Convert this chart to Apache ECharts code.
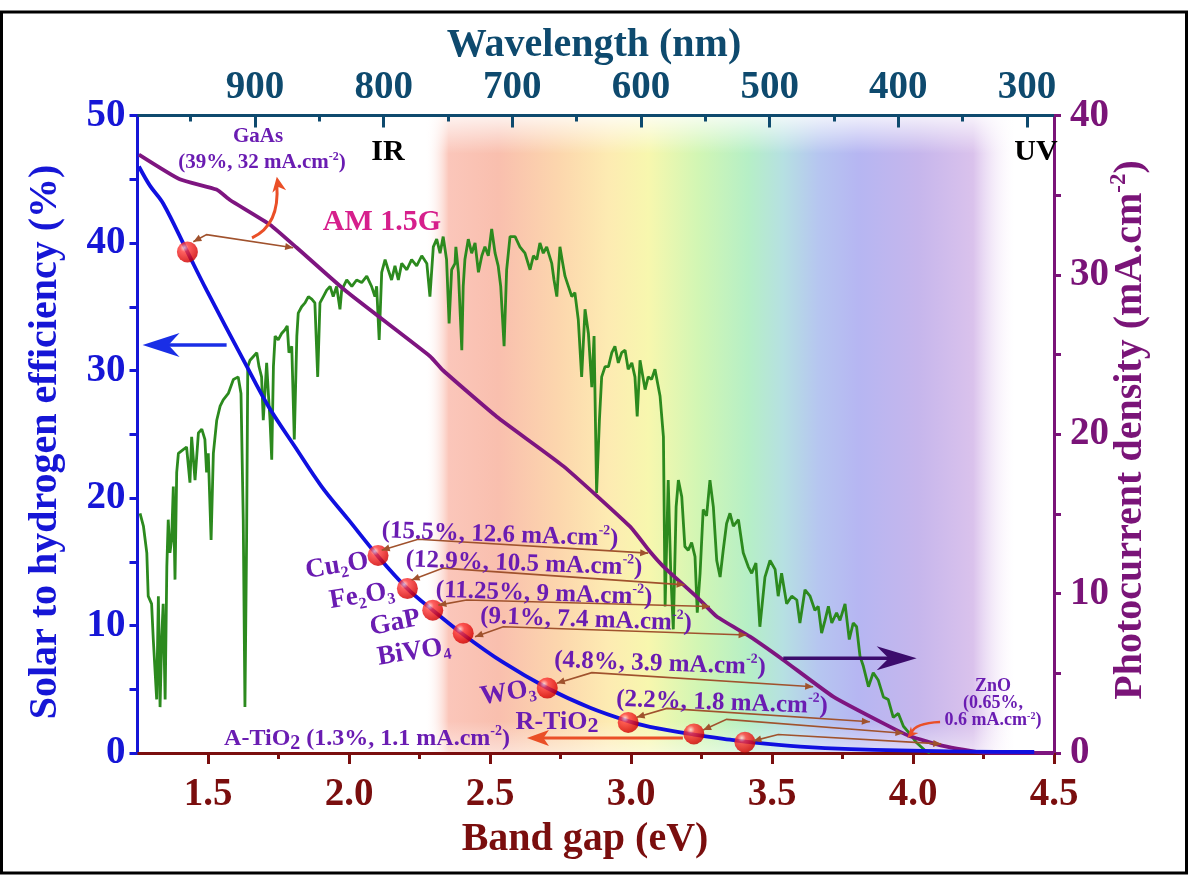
<!DOCTYPE html>
<html><head><meta charset="utf-8">
<script src="https://cdn.jsdelivr.net/npm/echarts@6/dist/echarts.min.js"></script>
<style>html,body{margin:0;padding:0;background:#fff}#c{width:1189px;height:875px}</style>
</head><body><div id="c"></div><script>
// ---------------- DATA ----------------
const evMajor = [1.5, 2.0, 2.5, 3.0, 3.5, 4.0, 4.5];
const evMinor = [1.75, 2.25, 2.75, 3.25, 3.75, 4.25];
const wlLabels = [900, 800, 700, 600, 500, 400, 300];
const wlMinor = [950, 850, 750, 650, 550, 450, 350];

// Solar-to-hydrogen efficiency (%), left axis
const sthEV  = [1.255,1.294,1.341,1.427,1.495,1.631,1.714,1.809,1.903,1.998,2.104,2.207,2.297,2.405,2.547,2.703,2.855,2.99,3.067,3.223,3.351,3.422,3.60,3.78,4.13,4.43];
const sthPct = [46.0,44.5,43.1,39.3,36.3,30.6,27.2,24.0,20.9,18.3,15.4,12.9,11.2,9.3,7.1,5.1,3.55,2.5,2.05,1.45,1.05,0.85,0.5,0.3,0.12,0.08];

// Photocurrent density (mA/cm2), right axis
const jphEV  = [1.255,1.40,1.53,1.578,1.72,1.815,1.99,2.287,2.334,2.524,2.76,2.997,3.067,3.115,3.233,3.304,3.422,3.54,3.717,3.895,3.99,4.107,4.25,4.5];
const jphVal = [37.55,36.0,35.35,34.7,33.15,31.7,28.97,24.9,24.0,21.1,18.0,14.2,12.64,11.7,9.8,8.56,7.3,5.84,3.54,1.86,1.05,0.45,0.02,0];

// AM 1.5G spectrum (drawn on the left-axis scale)
const amEV = [1.259,1.271,1.283,1.288,1.300,1.306,1.318,1.324,1.330,1.336,
1.341,1.348,1.354,1.359,1.365,1.371,1.377,1.383,1.389,1.395,
1.412,1.424,1.436,1.442,1.454,1.466,1.478,1.489,1.495,1.501,
1.511,1.519,1.531,1.543,1.554,1.572,1.590,1.607,1.617,1.625,
1.631,1.637,1.641,1.649,1.661,1.673,1.681,1.690,1.696,1.708,
1.714,1.720,1.726,1.732,1.738,1.749,1.761,1.773,1.781,1.787,
1.797,1.806,1.815,1.820,1.832,1.844,1.856,1.868,1.879,1.889,
1.897,1.909,1.921,1.933,1.944,1.956,1.968,1.974,1.992,2.010,
2.027,2.045,2.063,2.080,2.092,2.098,2.107,2.116,2.128,2.139,
2.151,2.163,2.175,2.187,2.205,2.222,2.240,2.258,2.276,2.287,
2.299,2.311,2.323,2.334,2.346,2.355,2.364,2.376,2.379,2.388,
2.400,2.405,2.411,2.423,2.435,2.447,2.459,2.471,2.482,2.494,
2.506,2.518,2.529,2.538,2.550,2.559,2.571,2.589,2.606,2.624,
2.642,2.654,2.666,2.677,2.689,2.701,2.719,2.727,2.737,2.748,
2.758,2.766,2.778,2.790,2.801,2.813,2.825,2.837,2.849,2.861,
2.869,2.878,2.888,2.896,2.908,2.920,2.932,2.943,2.955,2.967,
2.979,2.990,3.003,3.014,3.022,3.032,3.050,3.061,3.073,3.085,
3.103,3.115,3.121,3.132,3.141,3.150,3.160,3.168,3.180,3.191,
3.203,3.215,3.227,3.235,3.245,3.256,3.268,3.280,3.292,3.304,
3.316,3.327,3.339,3.351,3.363,3.381,3.398,3.416,3.428,3.443,
3.457,3.475,3.493,3.511,3.522,3.534,3.552,3.570,3.588,3.599,
3.617,3.635,3.652,3.664,3.676,3.688,3.700,3.712,3.729,3.741,
3.759,3.774,3.788,3.800,3.812,3.824,3.842,3.859,3.877,3.895,
3.912,3.930,3.948,3.966,3.989,4.013,4.043,4.060];
const amPct = [18.8,17.8,15.7,12.3,11.7,8.9,4.2,12.3,3.6,9.1,
11.7,4.2,14.6,18.3,15.7,16.7,20.9,13.6,22.0,23.5,
23.8,24.0,21.2,24.8,21.4,25.1,25.4,24.6,22.0,23.5,
16.7,23.5,26.1,27.2,27.7,28.2,29.3,29.5,28.2,18.3,
3.6,17.0,30.3,30.8,31.1,31.4,30.3,29.5,26.1,30.6,
28.2,26.1,23.0,30.3,32.7,32.4,32.9,33.2,33.5,31.4,
31.9,24.6,32.7,34.5,35.0,35.3,35.8,35.6,35.3,29.5,
35.3,35.8,36.3,36.6,35.8,36.6,34.8,36.3,37.1,36.6,
37.1,36.9,37.4,36.6,35.8,36.6,32.4,37.7,38.7,37.9,
37.1,38.2,37.1,38.4,37.9,38.7,38.2,39.0,38.4,35.8,
39.7,40.3,39.2,40.5,38.7,33.7,37.9,38.4,39.7,37.7,
31.6,36.6,38.7,40.3,39.2,40.0,37.7,39.0,39.7,39.0,
41.1,39.2,38.2,36.6,31.9,37.9,40.5,40.5,39.7,39.2,
37.9,39.0,38.7,40.0,39.2,39.7,38.4,37.1,35.8,39.7,
38.4,37.4,36.6,35.8,36.1,34.0,29.5,34.8,32.9,28.7,
32.7,20.4,26.1,29.5,30.3,30.3,31.4,31.9,30.6,31.4,
31.6,30.1,30.6,29.5,26.4,30.8,28.5,29.5,29.3,30.1,
28.0,24.8,11.5,21.4,14.1,9.7,19.3,21.4,20.1,16.2,
15.9,16.5,15.4,11.0,14.1,19.1,18.6,21.4,19.3,15.1,
13.8,15.9,18.0,18.8,17.8,18.3,15.7,14.6,14.1,14.9,
9.9,13.8,15.1,14.4,12.3,14.1,11.7,12.3,12.0,10.2,
12.8,12.3,11.2,11.5,9.4,10.4,11.5,10.2,11.0,10.4,
11.7,8.9,10.2,9.9,7.6,6.8,5.2,6.3,5.7,4.4,
4.2,2.8,3.1,2.1,1.5,0.8,0.2,0];

// Materials (markers on the STH curve)
const matNames = ['GaAs','Cu2O','Fe2O3','GaP','BiVO4','WO3','R-TiO2','A-TiO2','ZnO'];
const matEV  = [1.427,2.103,2.207,2.297,2.405,2.703,2.99,3.223,3.404];
const matSTH = [39.3,15.5,12.9,11.2,9.4,5.1,2.4,1.5,0.85];
// link end points on the photocurrent curve (eV, mA/cm2)
const linkEV = [1.802,3.061,3.19,3.28,3.41,3.646,3.847,3.966,4.10];
const linkJ  = [31.7,12.54,10.55,9.19,7.4,4.16,1.96,1.24,0.57];

// ---------------- STYLE ----------------
const FONT = '"Liberation Serif","Times New Roman",serif';
const C_LEFT = '#1616d6', C_RIGHT = '#7a1478', C_BOT = '#7a0e0e', C_TOP = '#0e4a6e';
const C_LBL = '#6a1cb2', C_BROWN = '#a0522d', C_RED = '#ea4f27';
const zip = (a, b) => a.map((v, i) => [v, b[i]]);

const chart = echarts.init(document.getElementById('c'), null, {renderer: 'canvas'});
const lblFont = (c, s) => ({color: c, fontFamily: FONT, fontWeight: 'bold', fontSize: s});

chart.setOption({
  animation: false,
  backgroundColor: '#fff',
  grid: {left: 137.5, right: 135, top: 115.5, bottom: 122, containLabel: false},
  xAxis: [
    {type: 'value', position: 'bottom', min: 1.25, max: 4.5,
     axisLine: {onZero: false, lineStyle: {color: C_BOT, width: 3}},
     axisTick: {customValues: evMajor, length: 11, lineStyle: {color: C_BOT, width: 3}},
     axisLabel: Object.assign({customValues: evMajor, margin: 22, formatter: v => v.toFixed(1)}, lblFont(C_BOT, 39)),
     splitLine: {show: false}},
    {type: 'value', position: 'top', inverse: true, min: 279, max: 991.3,
     axisLine: {onZero: false, lineStyle: {color: C_TOP, width: 3}},
     axisTick: {inside: true, customValues: wlLabels, length: 12, lineStyle: {color: C_TOP, width: 3}},
     axisLabel: Object.assign({customValues: wlLabels, margin: 8}, lblFont(C_TOP, 39)),
     splitLine: {show: false}},
    {type: 'value', position: 'top', inverse: true, min: 279, max: 991.3,
     axisLine: {show: false, onZero: false},
     axisTick: {inside: true, customValues: wlMinor, length: 6, lineStyle: {color: C_TOP, width: 3}},
     axisLabel: {show: false}, splitLine: {show: false}},
    {type: 'value', position: 'bottom', min: 1.25, max: 4.5,
     axisLine: {show: false, onZero: false},
     axisTick: {customValues: evMinor, length: 6, lineStyle: {color: C_BOT, width: 3}},
     axisLabel: {show: false}, splitLine: {show: false}}
  ],
  yAxis: [
    {type: 'value', position: 'left', min: 0, max: 50, interval: 5,
     axisLine: {show: true, onZero: false, lineStyle: {color: C_LEFT, width: 3}},
     axisTick: {show: true, length: 8, lineStyle: {color: C_LEFT, width: 3}},
     axisLabel: Object.assign({margin: 12, formatter: v => (v % 10 === 0 ? String(v) : '')}, lblFont(C_LEFT, 39)),
     splitLine: {show: false}},
    {type: 'value', position: 'right', min: 0, max: 40, interval: 5,
     axisLine: {show: true, onZero: false, lineStyle: {color: C_RIGHT, width: 3}},
     axisTick: {show: true, length: 7, lineStyle: {color: C_RIGHT, width: 3}},
     axisLabel: Object.assign({margin: 16, formatter: v => (v % 10 === 0 ? String(v) : '')}, lblFont(C_RIGHT, 39)),
     splitLine: {show: false}}
  ],
  series: [
    {name: 'AM 1.5G', type: 'line', xAxisIndex: 0, yAxisIndex: 0, data: zip(amEV, amPct),
     showSymbol: false, lineStyle: {color: '#2c8a1e', width: 2.8}, z: 3, silent: true},
    {name: 'Photocurrent', type: 'line', xAxisIndex: 0, yAxisIndex: 1, data: zip(jphEV, jphVal),
     showSymbol: false, smooth: 0.15, lineStyle: {color: '#7e1580', width: 3.8}, z: 4, silent: true},
    {name: 'STH', type: 'line', xAxisIndex: 0, yAxisIndex: 0, data: zip(sthEV, sthPct),
     showSymbol: false, smooth: 0.35, lineStyle: {color: '#1010e0', width: 3.8}, z: 5, silent: true},
    {name: 'Materials', type: 'scatter', xAxisIndex: 0, yAxisIndex: 0, data: zip(matEV, matSTH),
     symbolSize: 21, z: 20, silent: true,
     itemStyle: {color: {type: 'radial', x: 0.35, y: 0.3, r: 0.8,
       colorStops: [{offset: 0, color: '#ffd6d6'}, {offset: 0.25, color: '#ff3a3a'}, {offset: 0.8, color: '#d80000'}, {offset: 1, color: '#b00000'}]}}}
  ]
});

// ---------------- ANNOTATIONS (positions through the chart's own scales) ----------------
const P = (ax, x, y) => chart.convertToPixel({xAxisIndex: 0, yAxisIndex: ax}, [x, y]);
const g = [];
const Z = 40;

// rainbow background
const xa = P(0, 2.27, 0)[0], xb = P(0, 4.36, 0)[0], yt = P(0, 1.3, 50)[1], yb = P(0, 1.3, 0)[1];
g.push({type: 'rect', z: -5, silent: true, shape: {x: xa, y: yt, width: xb - xa, height: yb - yt},
  style: {fill: new echarts.graphic.LinearGradient(0, 0, 1, 0, [
    {offset: 0, color: 'rgba(255,255,255,0)'}, {offset: 0.04, color: '#fbc6ba'},
    {offset: 0.124, color: '#f9bfae'}, {offset: 0.226, color: '#fcd6ad'},
    {offset: 0.311, color: '#fdebb2'}, {offset: 0.379, color: '#f7f7ae'},
    {offset: 0.463, color: '#d2f6b4'}, {offset: 0.548, color: '#b6efc6'},
    {offset: 0.608, color: '#b6e0e2'}, {offset: 0.667, color: '#b6c6f0'},
    {offset: 0.735, color: '#b6b6f2'}, {offset: 0.837, color: '#c6b6ec'},
    {offset: 0.93, color: '#dac2ec'}, {offset: 1, color: 'rgba(250,240,252,0)'}])}});
g.push({type: 'rect', z: -4, silent: true, shape: {x: xa, y: yt, width: xb - xa, height: yb - yt},
  style: {fill: new echarts.graphic.LinearGradient(0, 0, 0, 1, [
    {offset: 0, color: 'rgba(255,255,255,0.8)'}, {offset: 0.06, color: 'rgba(255,255,255,0)'},
    {offset: 0.95, color: 'rgba(255,255,255,0)'}, {offset: 1, color: 'rgba(255,255,255,0.5)'}])}});

// frame
g.push({type: 'rect', z: 1, silent: true, shape: {x: 1.5, y: 12, width: 1185, height: 861},
  style: {fill: null, stroke: '#000', lineWidth: 3}});

function head(tip, from, len, half, color, notch) {
  const dx = tip[0] - from[0], dy = tip[1] - from[1], d = Math.hypot(dx, dy) || 1;
  const ux = dx / d, uy = dy / d, bx = tip[0] - ux * len, by = tip[1] - uy * len;
  const pts = [tip, [bx - uy * half, by + ux * half]];
  if (notch) pts.push([tip[0] - ux * len * notch, tip[1] - uy * len * notch]);
  pts.push([bx + uy * half, by - ux * half]);
  return {type: 'polygon', z: Z + 2, silent: true, shape: {points: pts}, style: {fill: color}};
}
function pline(pts, color, w) {
  return {type: 'polyline', z: Z, silent: true, shape: {points: pts}, style: {stroke: color, lineWidth: w, fill: null}};
}

// brown double-headed link arrows: start near marker, bend, end on photocurrent curve
const linkStart = [[1.448,40.1],[2.116,15.9],[2.222,13.57],[2.317,11.6],[2.447,9.12],[2.737,5.47],[3.02,2.8],[3.256,1.8],[3.434,0.95]];
const linkBend  = [[1.495,40.66],[2.245,16.76],[2.334,14.5],[2.417,12.0],[2.547,9.9],[2.861,6.3],[3.127,3.5],[3.339,2.64],[3.522,1.45]];
for (let i = 0; i < matNames.length; i++) {
  const s = P(0, linkStart[i][0], linkStart[i][1]);
  const b = P(0, linkBend[i][0], linkBend[i][1]);
  const e = P(1, linkEV[i], linkJ[i]);
  g.push(pline([s, b, e], C_BROWN, 1.6));
  g.push(head(s, b, 8, 3.5, C_BROWN));
  g.push(head(e, b, 8, 3.5, C_BROWN));
}

// A-TiO2 red arrow (left)
{
  const s = P(0, 3.184, 1.18), e = P(0, 2.631, 1.18);
  g.push(pline([s, [e[0] + 14, e[1]]], C_RED, 3));
  g.push(head(e, s, 22, 8, C_RED, 0.75));
}
// GaAs curved red arrow
{
  const s = P(0, 1.656, 40.4), c = P(0, 1.755, 41.4), e = P(0, 1.744, 45.2);
  g.push({type: 'bezierCurve', z: Z, silent: true, shape: {x1: s[0], y1: s[1], cpx1: c[0], cpy1: c[1], x2: e[0], y2: e[1] + 8},
    style: {stroke: C_RED, lineWidth: 3, fill: null}});
  g.push(head(e, [e[0] + 2, e[1] + 12], 15, 7, C_RED, 0.7));
}
// ZnO curved red arrow
{
  const s = P(0, 4.096, 2.43), c = P(0, 4.007, 2.35), e = P(0, 3.98, 1.18);
  g.push({type: 'bezierCurve', z: Z, silent: true, shape: {x1: s[0], y1: s[1], cpx1: c[0], cpy1: c[1], x2: e[0] + 4, y2: e[1] - 5},
    style: {stroke: C_RED, lineWidth: 2.5, fill: null}});
  g.push(head(e, [e[0] + 8, e[1] - 9], 11, 5, C_RED, 0.7));
}
// blue axis arrow (points to left axis)
{
  const s = P(0, 1.566, 32.0), e = P(0, 1.268, 32.0);
  g.push(pline([s, [e[0] + 20, e[1]]], '#1a2ee6', 3.5));
  g.push(head(e, s, 37, 12, '#1a2ee6', 0.7));
}
// purple axis arrow (points to right axis)
{
  const s = P(1, 3.54, 5.95), e = P(1, 4.013, 5.95);
  g.push(pline([s, [e[0] - 20, e[1]]], '#3c0c6c', 3.5));
  g.push(head(e, s, 40, 12, '#3c0c6c', 0.7));
}

// texts
function T(x, y, text, size, color, rot, lh) {
  const rs = (va, f) => ({fontFamily: FONT, fontWeight: 'bold', fontSize: Math.round(size * f), fill: color, verticalAlign: va});
  return {type: 'text', x: x, y: y, rotation: rot || 0, z: Z + 5, silent: true,
    style: {text: text, fill: color, fontFamily: FONT, fontWeight: 'bold', fontSize: size,
      align: 'center', verticalAlign: 'middle', textAlign: 'center', textVerticalAlign: 'middle',
      lineHeight: lh || Math.round(size * 1.2),
      rich: {sup: rs('top', 0.58), sub: rs('bottom', 0.58), sub2: rs('bottom', 0.85)}}};
}
const CM = ' mA.cm{sup|-2})';
g.push(T(594, 46, 'Wavelength (nm)', 40, C_TOP));
g.push(T(585, 840, 'Band gap (eV)', 40, C_BOT));
g.push(T(46, 442, 'Solar to hydrogen efficiency (%)', 40, C_LEFT, Math.PI / 2));
g.push(T(1131, 430, 'Photocurrent density (mA.cm{sup|-2})', 40, C_RIGHT, Math.PI / 2, 46));
g.push(T(388, 152, 'IR', 30, '#000'));
g.push(T(1036, 152, 'UV', 30, '#000'));
g.push(T(382, 222, 'AM 1.5G', 30, '#d61f8c'));
g.push(T(258, 137, 'GaAs', 21, C_LBL));
g.push(T(262, 163, '(39%, 32' + CM, 21, C_LBL));
g.push(T(337, 566, 'Cu{sub|2}O', 27, C_LBL, 0.16));
g.push(T(500, 535, '(15.5%, 12.6' + CM, 25, C_LBL, -0.035));
g.push(T(362, 596, 'Fe{sub|2}O{sub|3}', 27, C_LBL, 0.16));
g.push(T(524, 564, '(12.9%, 10.5' + CM, 25, C_LBL, -0.035));
g.push(T(395, 623, 'GaP', 27, C_LBL, 0.2));
g.push(T(544, 594, '(11.25%, 9' + CM, 25, C_LBL, -0.035));
g.push(T(414, 652, 'BiVO{sub|4}', 27, C_LBL, 0.16));
g.push(T(586, 620, '(9.1%, 7.4' + CM, 25, C_LBL, -0.035));
g.push(T(508, 693, 'WO{sub|3}', 27, C_LBL, 0.16));
g.push(T(660, 664, '(4.8%, 3.9' + CM, 25, C_LBL, -0.035));
g.push(T(557, 722, 'R-TiO{sub2|2}', 26, C_LBL));
g.push(T(722, 703, '(2.2%, 1.8' + CM, 25, C_LBL, -0.035));
g.push(T(367, 739, 'A-TiO{sub2|2} (1.3%, 1.1' + CM, 24, C_LBL));
g.push(T(993, 703, 'ZnO\n(0.65%,\n0.6' + CM, 18, C_LBL, 0, 17));

chart.setOption({graphic: g});
</script></body></html>
